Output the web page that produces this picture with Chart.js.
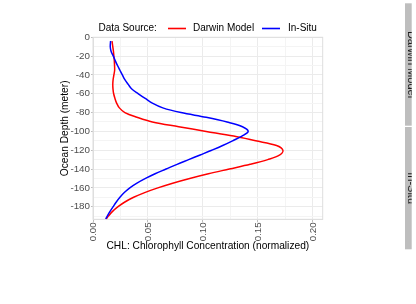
<!DOCTYPE html>
<html lang="en">
<head>
    <meta charset="UTF-8">
    <title>CHL depth profile</title>
    <script src="https://cdn.jsdelivr.net/npm/chart.js"></script>
    <style>
        body {
            margin: 0;
            background: #ffffff;
        }
        canvas {
            display: block;
        }
    </style>
</head>
<body>
    <canvas id="myChart" width="416" height="304"></canvas>

    <script>
        // depth in meters (negative = below surface)
        const depthLevels = [-4, -10, -15, -20, -25, -30, -35, -40, -45, -50, -55, -60, -65, -70, -75, -80,
            -85, -90, -95, -100, -105, -110, -115, -120, -125, -130, -135, -140, -145, -150, -155, -160,
            -165, -170, -175, -180, -185, -190, -193];

        const darwinModel = [0.0173, 0.0180, 0.0186, 0.0190, 0.0194, 0.0196, 0.0197, 0.0190, 0.0183, 0.0180,
            0.0182, 0.0188, 0.0200, 0.0215, 0.0240, 0.0290, 0.0400, 0.0540, 0.0780, 0.1030, 0.1280, 0.1480,
            0.1670, 0.1728, 0.1700, 0.1590, 0.1430, 0.1240, 0.1050, 0.0880, 0.0725, 0.0590, 0.0470, 0.0370,
            0.0290, 0.0228, 0.0178, 0.0140, 0.0120];

        const inSitu = [0.0160, 0.0157, 0.0165, 0.0185, 0.0203, 0.0223, 0.0245, 0.0267, 0.0290, 0.0320,
            0.0353, 0.0413, 0.0475, 0.0540, 0.0635, 0.0800, 0.1030, 0.1220, 0.1360, 0.1412, 0.1355, 0.1270,
            0.1180, 0.1080, 0.0975, 0.0870, 0.0765, 0.0665, 0.0565, 0.0478, 0.0400, 0.0335, 0.0285, 0.0245,
            0.0212, 0.0183, 0.0155, 0.0130, 0.0115];

        const xTicks = [0, 0.05, 0.10, 0.15, 0.20];
        const yTicks = [0, -20, -40, -60, -80, -100, -120, -140, -160, -180];
        const facetLabels = ['Darwin Model', 'In-Situ'];

        const FONT = "'Liberation Sans', Arial, sans-serif";

        function isMajor(v, list) {
            return list.some(t => Math.abs(t - v) < 1e-6);
        }

        const extras = {
            id: 'extras',
            beforeDatasetsDraw(chart) {
                const c = chart.ctx;
                const a = chart.chartArea;
                c.save();
                c.strokeStyle = '#dedede';
                c.lineWidth = 1;
                c.strokeRect(a.left, a.top, a.right - a.left, a.bottom - a.top);
                c.restore();
            },
            afterDraw(chart) {
                const c = chart.ctx;
                const a = chart.chartArea;
                c.save();

                // legend
                c.font = '10px ' + FONT;
                c.fillStyle = '#000000';
                c.textBaseline = 'middle';
                c.textAlign = 'left';
                c.fillText('Data Source:', 98.5, 28.5);
                c.lineWidth = 1.6;
                c.strokeStyle = '#ff0000';
                c.beginPath(); c.moveTo(168, 28.5); c.lineTo(186, 28.5); c.stroke();
                c.fillText('Darwin Model', 193, 28.5);
                c.strokeStyle = '#0000ff';
                c.beginPath(); c.moveTo(262, 28.5); c.lineTo(280, 28.5); c.stroke();
                c.fillText('In-Situ', 288, 28.5);

                // axis titles
                c.font = '10.2px ' + FONT;
                c.textAlign = 'center';
                c.fillText('CHL: Chlorophyll Concentration (normalized)', (a.left + a.right) / 2, 246);
                c.save();
                c.translate(65, (a.top + a.bottom) / 2);
                c.rotate(-Math.PI / 2);
                c.fillText('Ocean Depth (meter)', 0, 0);
                c.restore();

                // facet strips (clipped at the right edge)
                const strips = [[3.3, 125.7], [127, 249.3]];
                strips.forEach((s, i) => {
                    c.fillStyle = '#bebebe';
                    c.fillRect(405, s[0], 6.7, s[1] - s[0]);
                    c.save();
                    c.beginPath();
                    c.rect(405, s[0], 6.7, s[1] - s[0]);
                    c.clip();
                    c.translate(411, (s[0] + s[1]) / 2);
                    c.rotate(Math.PI / 2);
                    c.fillStyle = '#1a1a1a';
                    c.font = '11px ' + FONT;
                    c.textAlign = 'center';
                    c.textBaseline = 'middle';
                    c.fillText(facetLabels[i], 0, 0);
                    c.restore();
                });

                c.restore();
            }
        };

        const ctx = document.getElementById('myChart').getContext('2d');
        new Chart(ctx, {
            type: 'scatter',
            data: {
                datasets: [
                    {
                        label: 'Darwin Model',
                        data: depthLevels.map((d, i) => ({ x: darwinModel[i], y: d })),
                        showLine: true,
                        borderColor: '#ff0000',
                        borderWidth: 1.5,
                        pointRadius: 0,
                        tension: 0.35,
                        order: 1
                    },
                    {
                        label: 'In-Situ',
                        data: depthLevels.map((d, i) => ({ x: inSitu[i], y: d })),
                        showLine: true,
                        borderColor: '#0000ff',
                        borderWidth: 1.5,
                        pointRadius: 0,
                        tension: 0.35,
                        order: 0
                    }
                ]
            },
            options: {
                responsive: false,
                animation: false,
                layout: {
                    padding: { left: 0, right: 93.3, top: 37.3, bottom: 0 }
                },
                plugins: {
                    legend: { display: false },
                    tooltip: { enabled: false }
                },
                scales: {
                    x: {
                        type: 'linear',
                        min: 0,
                        max: 0.209,
                        afterFit: s => { s.height = 84.7; },
                        border: { color: '#dedede' },
                        grid: {
                            color: c => isMajor(c.tick.value, xTicks) ? '#ebebeb' : '#f4f4f4',
                            tickColor: c => isMajor(c.tick.value, xTicks) ? '#bdbdbd' : 'rgba(0,0,0,0)',
                            tickLength: 3
                        },
                        ticks: {
                            stepSize: 0.025,
                            includeBounds: false,
                            autoSkip: false,
                            minRotation: 90,
                            maxRotation: 90,
                            padding: 0,
                            color: '#4d4d4d',
                            font: { family: FONT, size: 9.8 },
                            callback: v => isMajor(v, xTicks) ? v.toFixed(2) : ''
                        }
                    },
                    y: {
                        type: 'linear',
                        min: -193.4,
                        max: 0,
                        afterFit: s => { s.width = 93; },
                        border: { color: '#dedede' },
                        grid: {
                            color: c => isMajor(c.tick.value, yTicks) ? '#ebebeb' : '#f4f4f4',
                            tickColor: c => isMajor(c.tick.value, yTicks) ? '#bdbdbd' : 'rgba(0,0,0,0)',
                            tickLength: 2
                        },
                        ticks: {
                            stepSize: 10,
                            includeBounds: false,
                            autoSkip: false,
                            padding: 1,
                            color: '#4d4d4d',
                            font: { family: FONT, size: 9.8 },
                            callback: v => isMajor(v, yTicks) ? String(Math.round(v)) : ''
                        }
                    }
                }
            },
            plugins: [extras]
        });
    </script>
</body>
</html>
